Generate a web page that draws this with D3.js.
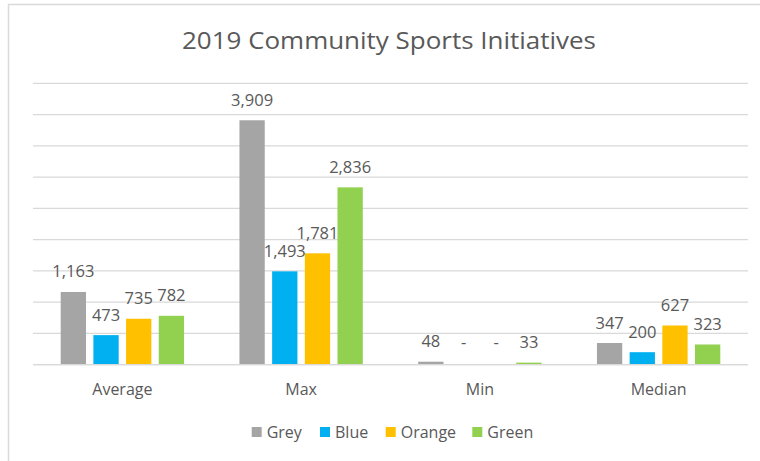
<!DOCTYPE html>
<html>
<head>
<meta charset="utf-8">
<script src="https://cdn.jsdelivr.net/npm/d3@7"></script>
<style>
  html, body { margin: 0; padding: 0; background: #fff; }
  svg { display: block; font-family: "Open Sans", "Noto Sans", sans-serif; }
</style>
</head>
<body>
<svg id="chart" width="760" height="461"></svg>
<script>
// Chart data
const title = "2019 Community Sports Initiatives";
const categories = ["Average", "Max", "Min", "Median"];
const seriesNames = ["Grey", "Blue", "Orange", "Green"];
const seriesColors = ["#A5A5A5", "#00B0F0", "#FFC000", "#92D050"];
const greyValues = [1163, 3909, 48, 347];
const blueValues = [473, 1493, 0, 200];
const orangeValues = [735, 1781, 0, 627];
const greenValues = [782, 2836, 33, 323];
const yTicks = [0, 500, 1000, 1500, 2000, 2500, 3000, 3500, 4000, 4500];

const seriesValues = [greyValues, blueValues, orangeValues, greenValues];

const svg = d3.select("#chart");
const textColor = "#595959";
const gridColor = "#D9D9D9";

// Outer chart frame
svg.append("rect")
  .attr("x", 8.5).attr("y", 4.5)
  .attr("width", 800).attr("height", 500)
  .attr("fill", "#fff")
  .attr("stroke", gridColor).attr("stroke-width", 1.5);

// Title, stretched to the wide title face
svg.append("text")
  .attr("x", 389).attr("y", 48.5)
  .attr("text-anchor", "middle")
  .attr("fill", textColor)
  .attr("font-size", 23)
  .attr("textLength", 414)
  .attr("lengthAdjust", "spacingAndGlyphs")
  .text(title);

// Scales
const plot = { left: 33, right: 748, top: 83.3, bottom: 364.7 };
const x0 = d3.scaleBand()
  .domain(categories)
  .range([plot.left, plot.right])
  .paddingInner(0.31).paddingOuter(0.155);
const x1 = d3.scaleBand()
  .domain(seriesNames)
  .range([0, x0.bandwidth()])
  .paddingInner(0.226).paddingOuter(0);
const y = d3.scaleLinear()
  .domain([0, d3.max(yTicks)])
  .range([plot.bottom, plot.top]);

// Horizontal gridlines
svg.append("g")
  .selectAll("line")
  .data(yTicks)
  .join("line")
  .attr("x1", plot.left).attr("x2", plot.right)
  .attr("y1", d => y(d)).attr("y2", d => y(d))
  .attr("stroke", gridColor).attr("stroke-width", 1.3);

// Bars and labels
const rows = categories.map((c, i) => ({
  category: c,
  values: seriesNames.map((s, j) => ({ series: s, color: seriesColors[j], value: seriesValues[j][i] }))
}));

const groups = svg.append("g")
  .selectAll("g")
  .data(rows)
  .join("g")
  .attr("transform", d => `translate(${x0(d.category)},0)`);

groups.selectAll("rect")
  .data(d => d.values)
  .join("rect")
  .attr("x", d => x1(d.series))
  .attr("width", x1.bandwidth())
  .attr("y", d => y(d.value))
  .attr("height", d => y(0) - y(d.value))
  .attr("fill", d => d.color);

const fmt = d3.format(",");
groups.selectAll("text")
  .data(d => d.values)
  .join("text")
  .attr("x", d => x1(d.series) + x1.bandwidth() / 2)
  .attr("y", d => y(d.value) - (d.value === 0 ? 17 : 14.5))
  .attr("text-anchor", "middle")
  .attr("fill", textColor)
  .attr("font-size", 16.5)
  .text(d => d.value === 0 ? "-" : fmt(d.value));

// Baseline
svg.append("line")
  .attr("x1", plot.left).attr("x2", plot.right)
  .attr("y1", y(0)).attr("y2", y(0))
  .attr("stroke", gridColor).attr("stroke-width", 1.3);

// Category axis labels
svg.append("g")
  .selectAll("text")
  .data(categories)
  .join("text")
  .attr("x", d => x0(d) + x0.bandwidth() / 2)
  .attr("y", 395)
  .attr("text-anchor", "middle")
  .attr("fill", textColor)
  .attr("font-size", 16)
  .text(d => d);

// Legend
const legendX = [251.7, 320, 385.7, 472.3];
const legend = svg.append("g")
  .selectAll("g")
  .data(seriesNames)
  .join("g")
  .attr("transform", (d, i) => `translate(${legendX[i]},432)`);
legend.append("rect")
  .attr("x", 0).attr("y", -5)
  .attr("width", 10).attr("height", 10)
  .attr("fill", (d, i) => seriesColors[i]);
legend.append("text")
  .attr("x", 15).attr("y", 5.5)
  .attr("fill", textColor)
  .attr("font-size", 16)
  .text(d => d);
</script>
</body>
</html>
